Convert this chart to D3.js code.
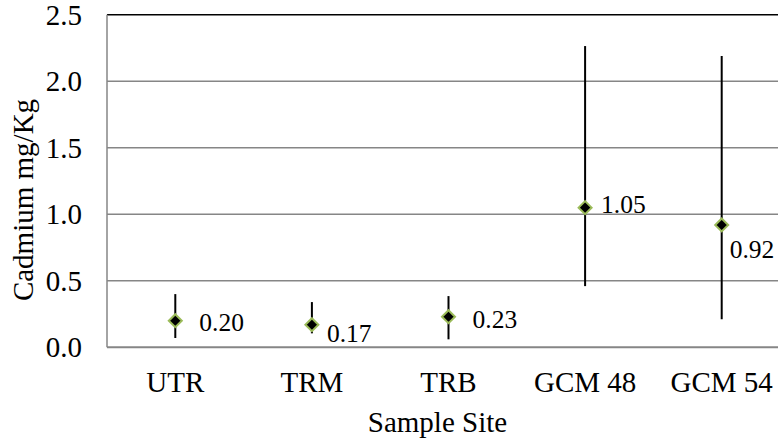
<!DOCTYPE html>
<html>
<head>
<meta charset="utf-8">
<script src="https://cdn.jsdelivr.net/npm/d3@7"></script>
<style>
  body { margin: 0; background: #fff; }
  svg { display: block; }
  .grid line { stroke: #868686; stroke-width: 1.5; }
  .axis path { display: none; }
</style>
</head>
<body>
<div class="chart"></div>
<script>
// data
var sites = ["UTR", "TRM", "TRB", "GCM 48", "GCM 54"];
var means = [0.20, 0.17, 0.23, 1.05, 0.92];
var lows  = [0.07, 0.105, 0.06, 0.46, 0.21];
var highs = [0.40, 0.34, 0.385, 2.265, 2.19];
var yTicks = [0, 0.5, 1.0, 1.5, 2.0, 2.5];

// where each data label sits relative to its marker (dx, baseline dy)
var labelOffsets = [[24, 10], [15, 17], [24, 11.5], [16, 5], [8, 33]];

var serif = "'Liberation Serif', 'Times New Roman', serif";
var chartW = 778, chartH = 442;
var plotLeft = 107, plotTop = 14.8, plotBottom = 347.3;

var svg = d3.select(".chart").append("svg")
  .attr("width", chartW)
  .attr("height", chartH)
  .attr("font-family", serif);

svg.append("rect").attr("width", chartW).attr("height", chartH).attr("fill", "#fff");

var x = d3.scaleBand()
  .domain(sites)
  .range([plotLeft, 790]);

var y = d3.scaleLinear()
  .domain([0, 2.5])
  .range([plotBottom, plotTop]);

// gridlines
svg.append("g")
  .attr("class", "grid")
  .selectAll("line")
  .data(yTicks.filter(function (d) { return d > 0 && d < 2.5; }))
  .join("line")
  .attr("x1", plotLeft)
  .attr("x2", chartW)
  .attr("y1", function (d) { return y(d); })
  .attr("y2", function (d) { return y(d); });

// top border is black
svg.append("line")
  .attr("x1", plotLeft).attr("x2", chartW)
  .attr("y1", y(2.5)).attr("y2", y(2.5))
  .attr("stroke", "#000").attr("stroke-width", 1.5);

// left axis line + bottom line
svg.append("line")
  .attr("x1", plotLeft).attr("x2", plotLeft)
  .attr("y1", y(2.5)).attr("y2", y(0))
  .attr("stroke", "#868686").attr("stroke-width", 1.5);
svg.append("line")
  .attr("x1", plotLeft).attr("x2", chartW)
  .attr("y1", y(0)).attr("y2", y(0))
  .attr("stroke", "#868686").attr("stroke-width", 2);

// y axis labels
svg.append("g")
  .attr("class", "axis")
  .attr("transform", "translate(" + plotLeft + ",0)")
  .call(d3.axisLeft(y).tickValues(yTicks).tickFormat(d3.format(".1f")).tickSize(0).tickPadding(25))
  .attr("font-family", serif)
  .attr("font-size", 29);

// x axis labels
var xAxis = svg.append("g")
  .attr("class", "axis")
  .attr("transform", "translate(0," + plotBottom + ")")
  .call(d3.axisBottom(x).tickSize(0))
  .attr("font-family", serif)
  .attr("font-size", 29);
xAxis.selectAll("text").attr("dy", null).attr("y", 44.7);

// axis titles
svg.append("text")
  .attr("x", 437.5)
  .attr("y", 432.3)
  .attr("text-anchor", "middle")
  .attr("font-size", 29)
  .text("Sample Site");

svg.append("text")
  .attr("transform", "translate(33,200) rotate(-90)")
  .attr("text-anchor", "middle")
  .attr("font-size", 29)
  .text("Cadmium mg/Kg");

var cx = function (i) { return x(sites[i]) + x.bandwidth() / 2; };

// error bars
svg.append("g")
  .selectAll("line")
  .data(sites)
  .join("line")
  .attr("x1", function (d, i) { return cx(i); })
  .attr("x2", function (d, i) { return cx(i); })
  .attr("y1", function (d, i) { return y(lows[i]); })
  .attr("y2", function (d, i) { return y(highs[i]); })
  .attr("stroke", "#000")
  .attr("stroke-width", 2);

// diamond markers
svg.append("g")
  .selectAll("path")
  .data(sites)
  .join("path")
  .attr("d", "M0,-6.5L6.5,0L0,6.5L-6.5,0Z")
  .attr("transform", function (d, i) { return "translate(" + cx(i) + "," + y(means[i]) + ")"; })
  .attr("fill", "#000")
  .attr("stroke", "#9BBB59")
  .attr("stroke-width", 2);

// data labels
svg.append("g")
  .attr("font-size", 25.5)
  .selectAll("text")
  .data(sites)
  .join("text")
  .attr("x", function (d, i) { return cx(i) + labelOffsets[i][0]; })
  .attr("y", function (d, i) { return y(means[i]) + labelOffsets[i][1]; })
  .text(function (d, i) { return d3.format(".2f")(means[i]); });
</script>
</body>
</html>
